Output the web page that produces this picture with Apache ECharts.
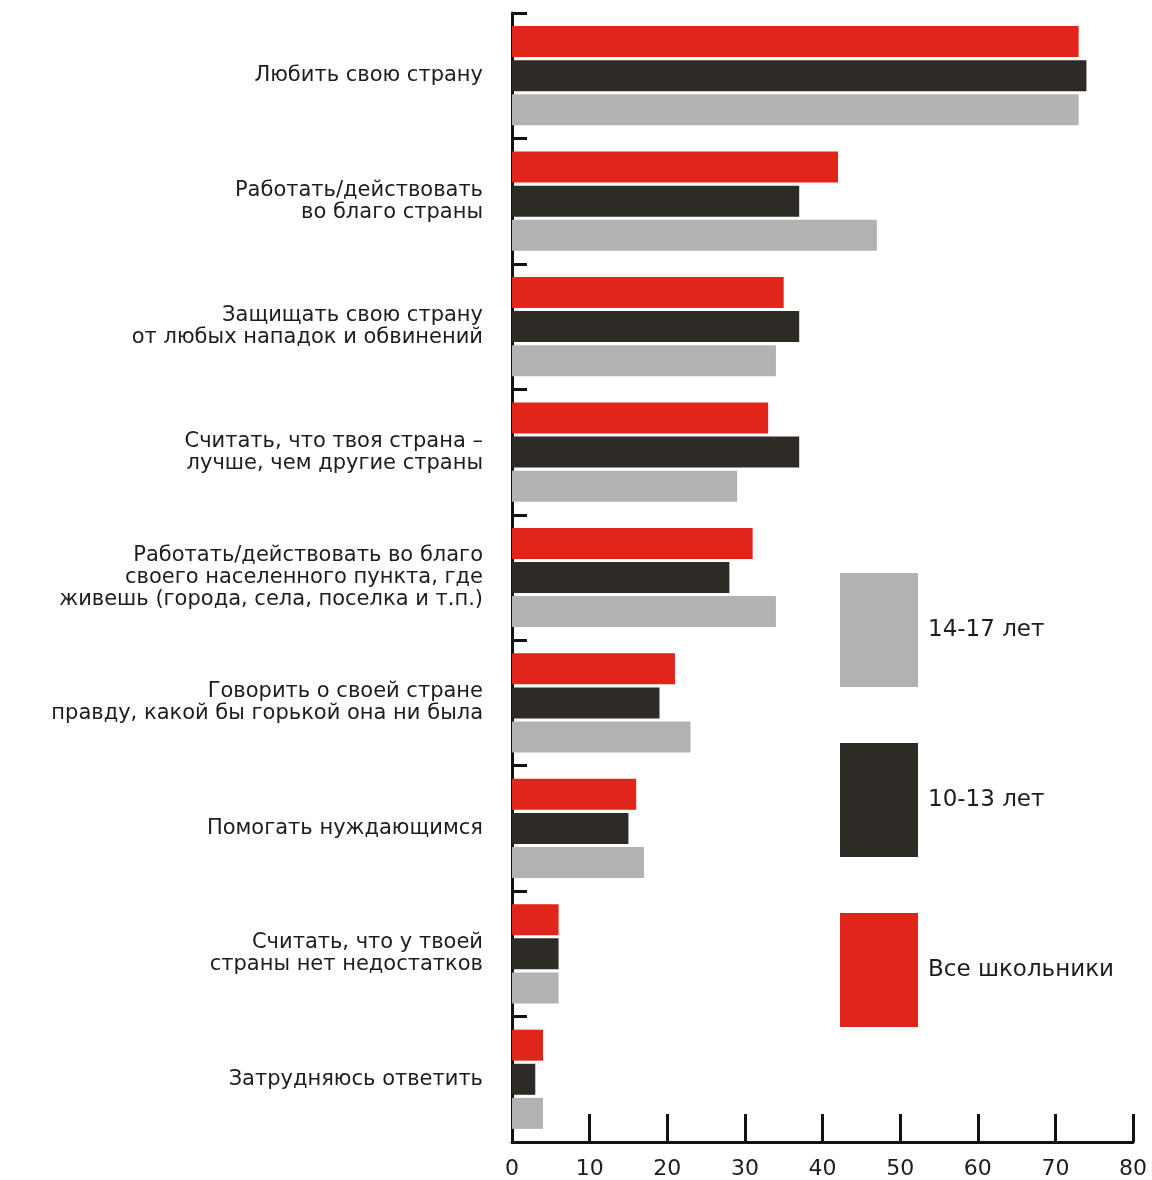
<!DOCTYPE html>
<html>
<head>
<meta charset="utf-8">
<script src="https://cdn.jsdelivr.net/npm/echarts@6/dist/echarts.min.js"></script>
<style>
  html, body { margin: 0; padding: 0; background: #ffffff; }
  #chart { width: 1152px; height: 1180px; }
</style>
</head>
<body>
<div id="chart"></div>
<script>
// Ответы школьников: что значит быть патриотом (%)
const categories = [
  'Любить свою страну',
  'Работать/действовать\nво благо страны',
  'Защищать свою страну\nот любых нападок и обвинений',
  'Считать, что твоя страна –\nлучше, чем другие страны',
  'Работать/действовать во благо\nсвоего населенного пункта, где\nживешь (города, села, поселка и т.п.)',
  'Говорить о своей стране\nправду, какой бы горькой она ни была',
  'Помогать нуждающимся',
  'Считать, что у твоей\nстраны нет недостатков',
  'Затрудняюсь ответить'
];
const allStudents = [73, 42, 35, 33, 31, 21, 16, 6, 4];
const age10to13   = [74, 37, 37, 37, 28, 19, 15, 6, 3];
const age14to17   = [73, 47, 34, 29, 34, 23, 17, 6, 4];
const xTicks = [0, 10, 20, 30, 40, 50, 60, 70, 80];

const FONT = 'DejaVu Sans';
const TEXT = '#1d1d1b';

const chart = echarts.init(document.getElementById('chart'), null, { renderer: 'canvas' });
chart.setOption({
  backgroundColor: '#ffffff',
  animation: false,
  grid: { left: 512, right: 19, top: 13, bottom: 37, containLabel: false },
  legend: {
    orient: 'vertical',
    left: 835,
    top: 568,
    itemWidth: 78,
    itemHeight: 114,
    itemGap: 56,
    icon: 'rect',
    textStyle: { fontFamily: FONT, fontSize: 23, color: TEXT, padding: [4, 0, 0, 5] },
    data: ['14-17 лет', '10-13 лет', 'Все школьники']
  },
  xAxis: {
    type: 'value',
    min: xTicks[0],
    max: xTicks[xTicks.length - 1],
    interval: 10,
    axisLine: { show: true, lineStyle: { color: '#111', width: 3 } },
    axisTick: { show: true, inside: true, length: 28, lineStyle: { color: '#111', width: 3 } },
    axisLabel: { fontFamily: FONT, fontSize: 22, color: TEXT, margin: 16 },
    splitLine: { show: false }
  },
  yAxis: {
    type: 'category',
    inverse: true,
    data: categories,
    axisLine: { show: true, lineStyle: { color: '#111', width: 3 } },
    axisTick: { show: true, inside: true, length: 15, lineStyle: { color: '#111', width: 3 } },
    axisLabel: { fontFamily: FONT, fontSize: 21, lineHeight: 22, color: TEXT, margin: 29, align: 'right' }
  },
  series: [
    { name: 'Все школьники', type: 'bar', data: allStudents, barWidth: 31, barGap: '10%',
      itemStyle: { color: '#e1251b' } },
    { name: '10-13 лет', type: 'bar', data: age10to13, barWidth: 31, barGap: '10%',
      itemStyle: { color: '#2e2a26' } },
    { name: '14-17 лет', type: 'bar', data: age14to17, barWidth: 31, barGap: '10%',
      itemStyle: { color: '#b2b2b2' } }
  ]
});
</script>
</body>
</html>
